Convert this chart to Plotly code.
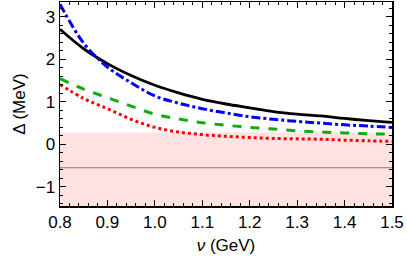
import plotly.graph_objects as go

nu = [0.80, 0.85, 0.90, 0.95, 1.00, 1.05, 1.10, 1.15, 1.20, 1.25, 1.30, 1.35, 1.40, 1.45, 1.50]
black = [2.71, 2.25, 1.90, 1.62, 1.39, 1.21, 1.06, 0.95, 0.86, 0.77, 0.71, 0.67, 0.61, 0.56, 0.52]
blue = [3.30, 2.38, 1.82, 1.45, 1.14, 0.97, 0.84, 0.74, 0.65, 0.59, 0.54, 0.50, 0.46, 0.43, 0.40]
green = [1.55, 1.30, 1.10, 0.90, 0.71, 0.60, 0.51, 0.45, 0.40, 0.36, 0.32, 0.29, 0.27, 0.25, 0.24]
red = [1.41, 1.08, 0.84, 0.59, 0.40, 0.29, 0.23, 0.19, 0.16, 0.14, 0.13, 0.12, 0.10, 0.085, 0.07]
band_top = 0.28
line_level = -0.55

fig = go.Figure()
fig.add_shape(type="rect", xref="x", yref="y", x0=0.8, x1=1.5, y0=-1.45, y1=band_top,
              fillcolor="rgb(255,226,226)", line_width=0, layer="below")
fig.add_shape(type="line", xref="x", yref="y", x0=0.8, x1=1.5, y0=line_level, y1=line_level,
              line=dict(color="rgb(225,80,80)", width=1), layer="below")

fig.add_trace(go.Scatter(x=nu, y=black, mode="lines", line=dict(color="black", width=2.8, shape="spline")))
fig.add_trace(go.Scatter(x=nu, y=blue, mode="lines", line=dict(color="rgb(0,0,255)", width=3, dash="dashdot", shape="spline")))
fig.add_trace(go.Scatter(x=nu, y=green, mode="lines", line=dict(color="rgb(20,170,20)", width=3, dash="dash", shape="spline")))
fig.add_trace(go.Scatter(x=nu, y=red, mode="lines", line=dict(color="rgb(255,0,0)", width=3, dash="dot", shape="spline")))

font = dict(size=17, color="black", family="Liberation Sans, Arial")
axis_common = dict(showline=True, linecolor="black", linewidth=1.5, mirror="ticks",
                   ticks="inside", ticklen=6, tickcolor="black", showgrid=False, zeroline=False,
                   tickfont=font, automargin=False)
fig.update_xaxes(range=[0.8, 1.5], dtick=0.1, tick0=0.8, tickformat=".1f",
                 minor=dict(ticks="inside", ticklen=3, dtick=0.02, tickcolor="black"),
                 title=dict(text="<i>ν</i> (GeV)", font=font, standoff=8),
                 **axis_common)
fig.update_yaxes(range=[-1.45, 3.35], dtick=1, tick0=0,
                 minor=dict(ticks="inside", ticklen=3, dtick=0.2, tickcolor="black"),
                 title=dict(text="Δ (MeV)", font=font, standoff=6),
                 **axis_common)
fig.update_layout(width=407, height=266, margin=dict(l=60, r=15, t=2, b=60),
                  plot_bgcolor="white", paper_bgcolor="white", showlegend=False)
fig.write_html("out.html", config={"displayModeBar": False, "staticPlot": True},
               post_script="document.body.style.margin='0';document.body.style.overflow='hidden';")
